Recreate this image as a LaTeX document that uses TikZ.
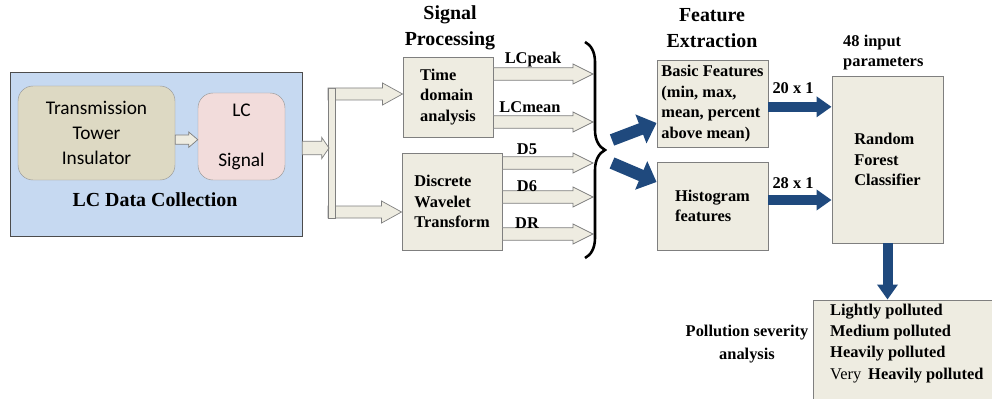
\documentclass[tikz,border=0pt]{standalone}
\usepackage{fontspec}
\setmainfont{Liberation Serif}
\newfontfamily\timesrm{Liberation Serif}
\newfontfamily\carlito{Carlito}
\usetikzlibrary{arrows.meta,calc,decorations.pathreplacing}
\definecolor{dcblue}{HTML}{C6D9F1}
\definecolor{towerfill}{HTML}{DDD9C3}
\definecolor{lcpink}{HTML}{F2DCDB}
\definecolor{boxfill}{HTML}{EEECE1}
\definecolor{boxgray}{HTML}{7F7F7F}
\definecolor{arrowblue}{HTML}{1F497D}
\tikzset{
  procbox/.style={draw=boxgray, fill=boxfill, line width=0.8pt, align=left, inner sep=0pt,
    font=\timesrm\bfseries\fontsize{14}{17.5}\selectfont},
  lbl/.style={font=\timesrm\bfseries\fontsize{14}{17}\selectfont, inner sep=0pt},
  ttl/.style={font=\timesrm\bfseries\fontsize{17}{22}\selectfont, align=center, inner sep=0pt},
  sansbox/.style={draw=black!40, rounded corners=0.45cm, align=center,
    font=\carlito\fontsize{16.5}{21.5}\selectfont},
  hollow/.style n args={3}{draw=boxgray, fill=boxfill, line width=0.6pt,
    to path={let \p1=(\tikztostart), \p2=(\tikztotarget) in
      (\x1,\y1+#1) -- (\x2-#3,\y1+#1) -- (\x2-#3,\y1+#2) -- (\x2,\y1)
      -- (\x2-#3,\y1-#2) -- (\x2-#3,\y1-#1) -- (\x1,\y1-#1) -- cycle}},
  bluearr/.style={draw=arrowblue, line width=0.3cm, -{Triangle[length=0.45cm, width=0.6cm]}},
  bluediag/.style={draw=arrowblue, line width=0.36cm, -{Triangle[length=0.5cm, width=0.9cm]}}
}
\begin{document}
\begin{tikzpicture}[x=0.03cm, y=-0.03cm]
\useasboundingbox (0,0) rectangle (992,399);
% LC data collection
\node[draw=black!70, fill=dcblue, minimum width=8.76cm, minimum height=4.92cm] (dcbox) at (156,154) {};
\node[sansbox, fill=towerfill, minimum width=4.71cm, minimum height=2.82cm] (tower) at (96.5,133) {Transmission\\Tower\\Insulator};
\node[sansbox, fill=lcpink, minimum width=2.61cm, minimum height=2.61cm] (lcsig) at (241.5,136.5) {LC\\[21pt]Signal};
\node[ttl] (dctitle) at (155,200) {LC Data Collection};
\draw[hollow={0.14cm}{0.23cm}{0.27cm}] ([yshift=-0.2cm]tower.east) to (lcsig.west);

% signal processing
\node[ttl] (sptitle) at (450,28) {Signal\\Processing};
\node[procbox, minimum width=2.7cm, minimum height=2.4cm] (tda) at (448,97) {Time\\domain\\analysis};
\node[procbox, minimum width=3cm, minimum height=2.91cm] (dwt) at (452,201.5) {Discrete\\Wavelet\\Transform};
\coordinate (split) at (329,148);
\coordinate (brt) at (328,94);
\coordinate (brb) at (328,212);
\draw[hollow={0.18cm}{0.33cm}{0.6cm}] (brt) to (tda.west);
\draw[hollow={0.18cm}{0.33cm}{0.6cm}] (brb) to (dwt.west);
\draw[draw=boxgray, fill=boxfill, line width=0.6pt] (328,88) rectangle (335,218);
\fill[boxfill] (329,89) rectangle (334.5,99.5) (329,206.5) rectangle (334.5,217);
\draw[hollow={0.2cm}{0.32cm}{0.22cm}] ([yshift=0.18cm]dcbox.east) to (split);

\coordinate (o1) at (593,74);
\coordinate (o2) at (593,122);
\coordinate (o3) at (593,163);
\coordinate (o4) at (593,197);
\coordinate (o5) at (593,234);
\draw[hollow={0.19cm}{0.3cm}{0.6cm}] ([yshift=0.69cm]tda.east) to (o1);
\draw[hollow={0.19cm}{0.3cm}{0.6cm}] ([yshift=-0.75cm]tda.east) to (o2);
\draw[hollow={0.19cm}{0.3cm}{0.6cm}] ([yshift=1.155cm]dwt.east) to (o3);
\draw[hollow={0.19cm}{0.3cm}{0.6cm}] ([yshift=0.135cm]dwt.east) to (o4);
\draw[hollow={0.19cm}{0.3cm}{0.6cm}] ([yshift=-0.975cm]dwt.east) to (o5);
\node[lbl] (lcpeak) at (533,60) {LCpeak};
\node[lbl] (lcmean) at (530,107) {LCmean};
\node[lbl] (dfive) at (527,149) {D5};
\node[lbl] (dsix) at (527,186) {D6};
\node[lbl] (dres) at (527,223) {DR};

% brace
\coordinate (brtop) at (585,42);
\coordinate (brbot) at (585,258);
\draw[decorate, decoration={brace, amplitude=0.6cm}, line width=2.2pt] (brtop) -- (brbot);

% feature extraction
\node[ttl] (fetitle) at (712,28) {Feature\\Extraction};
\node[procbox, minimum width=3.33cm, minimum height=2.61cm] (basic) at (712.5,103.5) {Basic Features\\(min, max,\\mean, percent\\above mean)};
\node[procbox, minimum width=3.33cm, minimum height=2.64cm] (hist) at (712.5,206) {Histogram\\features\hspace*{0.4cm}};
\coordinate (bt1) at (612,140);
\coordinate (bt2) at (612,163);
\draw[bluediag] (bt1) -- ([yshift=-0.585cm]basic.west);
\draw[bluediag] (bt2) -- ([yshift=0.72cm]hist.west);

% classifier
\node[procbox, minimum width=3.33cm, minimum height=5.01cm] (rf) at (887.5,159.5) {Random\\Forest\\Classifier};
\node[lbl, align=left, anchor=west] (inparam) at (843,53) {48 input\\parameters};
\coordinate (b20) at ([yshift=-0.1cm]basic.east);
\coordinate (b28) at ([yshift=0.18cm]hist.east);
\draw[bluearr] (b20) -- (b20 -| rf.west);
\draw[bluearr] (b28) -- (b28 -| rf.west);
\node[lbl] (dtwenty) at (793,88) {20 x 1};
\node[lbl] (dtwentyeight) at (793,183) {28 x 1};

% pollution severity
\node[procbox, minimum width=5.76cm, minimum height=3.3cm] (pollbox) at (909,355) {};
\draw[bluearr] (rf.south) -- (rf.south |- pollbox.north);
\node[lbl, align=left, anchor=west, font=\timesrm\bfseries\fontsize{14}{18}\selectfont] (levels) at (830,343.5) {Lightly polluted\\Medium polluted\\Heavily polluted\\{\mdseries Very}\hspace{6pt}Heavily polluted};
\node[lbl, align=center, font=\timesrm\bfseries\fontsize{14}{19}\selectfont] (sevlabel) at (747,344) {Pollution severity\\analysis};
\end{tikzpicture}
\end{document}
